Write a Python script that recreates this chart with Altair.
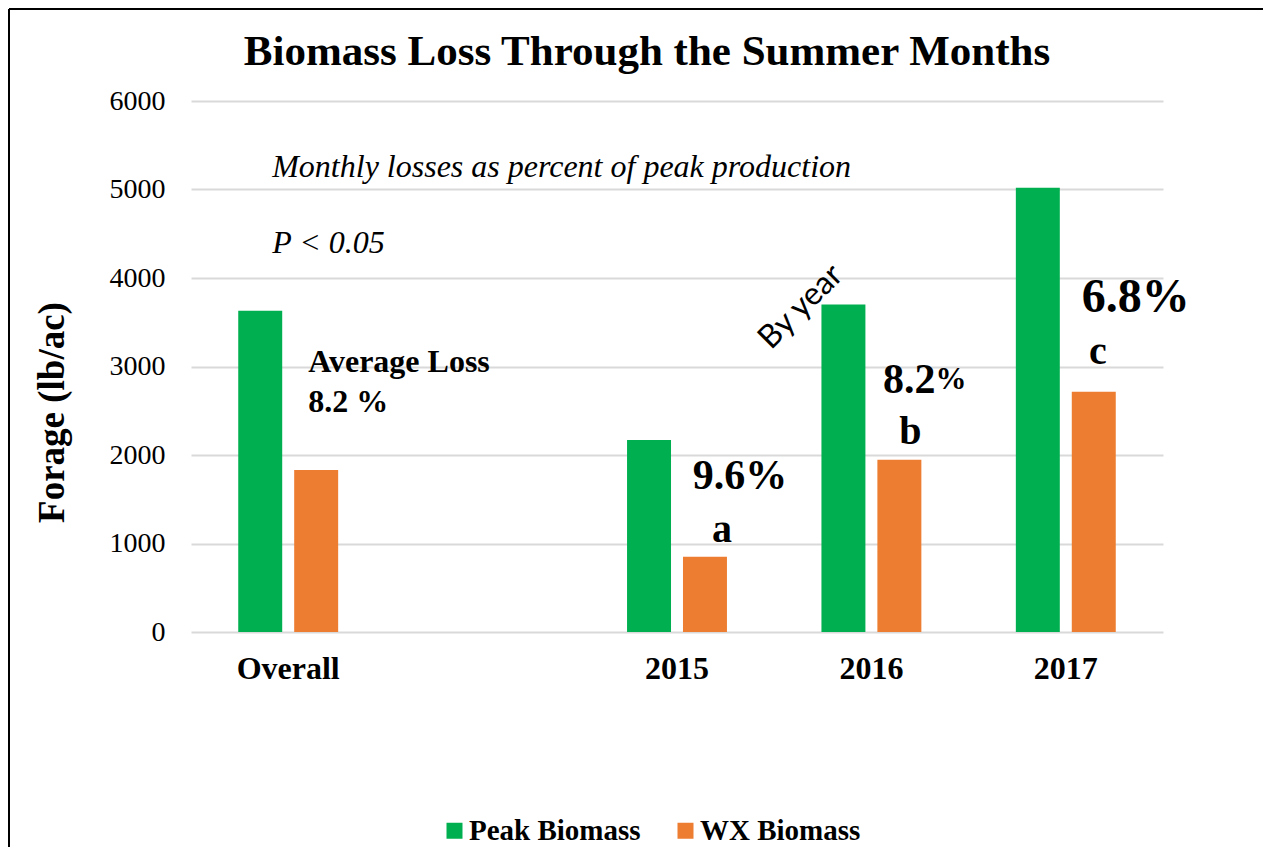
import altair as alt
import pandas as pd

categories = ["Overall", " ", "2015", "2016", "2017"]
series = ["Peak Biomass", "WX Biomass"]
peak = [3630, None, 2170, 3700, 5020]
wx = [1830, None, 850, 1945, 2715]
colors = ["#00B050", "#ED7D31"]

rows = []
for c, p, w in zip(categories, peak, wx):
    if p is not None:
        rows.append({"cat": c, "series": series[0], "value": p})
        rows.append({"cat": c, "series": series[1], "value": w})
df = pd.DataFrame(rows)

SERIF = "Liberation Serif"
W, H = 972, 531

xscale = alt.Scale(domain=categories, paddingInner=0.486, paddingOuter=0.243)
yscale = alt.Scale(domain=[0, 6000])

bars = alt.Chart(df).mark_bar().encode(
    x=alt.X("cat:N", scale=xscale, sort=categories,
            axis=alt.Axis(title=None, domain=False, ticks=False, labelAngle=0,
                          labelFont=SERIF, labelFontWeight="bold", labelFontSize=32,
                          labelColor="#000", labelPadding=21)),
    xOffset=alt.XOffset("series:N", scale=alt.Scale(domain=series, paddingInner=0.214, paddingOuter=0)),
    y=alt.Y("value:Q", scale=yscale,
            axis=alt.Axis(title="Forage (lb/ac)", values=[0, 1000, 2000, 3000, 4000, 5000, 6000],
                          format="d", domain=False, ticks=False, gridColor="#d9d9d9", gridWidth=2,
                          labelFont=SERIF, labelFontSize=28, labelColor="#000", labelPadding=26,
                          titleFont=SERIF, titleFontWeight="bold", titleFontSize=37,
                          titleColor="#000", titleX=-139, titleY=311, titleAngle=-90,
                          titleBaseline="middle", titleAlign="center")),
    color=alt.Color("series:N", scale=alt.Scale(domain=series, range=colors),
                    legend=alt.Legend(title=None, orient="none", legendX=249, legendY=715,
                                      direction="horizontal", symbolType="square",
                                      symbolSize=256, symbolStrokeWidth=0,
                                      labelFont=SERIF, labelFontWeight="bold",
                                      labelFontSize=29, labelColor="#000", labelLimit=400,
                                      labelOffset=0, columnPadding=30)),
)

base = alt.Chart(pd.DataFrame({"d": [0]}))


def note(text, cat, yv, dx, size, weight="bold", style="normal", align="left",
         font=SERIF, angle=0, dy=0):
    kw = dict(text=text, dx=dx, dy=dy, fontSize=size, fontWeight=weight, fontStyle=style,
              align=align, baseline="middle", font=font, color="#000")
    if angle:
        kw["angle"] = angle
    return base.mark_text(**kw).encode(
        x=alt.X("x:N", scale=xscale), y=alt.Y("y:Q", scale=yscale)
    ).transform_calculate(x=f"'{cat}'", y=str(yv))


notes = [
    note("Monthly losses as percent of peak production", "Overall", 5254, -16, 32,
         weight="normal", style="italic"),
    note("P < 0.05", "Overall", 4395, -16, 32, weight="normal", style="italic"),
    note("Average Loss", "Overall", 3051, 20, 32),
    note("8.2 %", "Overall", 2599, 20, 32),
    # dx/dy are applied in the rotated frame: (-50, -50) gives a horizontal shift of -71 px
    note("By year", "2016", 3661, -49, 32, weight="normal", align="center",
         font="Lato", angle=315, dy=-51),
    note("9.6%", "2015", 1763, 63, 42, align="center"),
    note("a", "2015", 1153, 45, 40, align="center"),
    note("8.2", "2016", 2847, 64, 42, align="right"),
    note("%", "2016", 2847, 64, 31, align="left"),
    note("b", "2016", 2260, 39, 40, align="center"),
    note("6.8%", "2017", 3774, 70, 48, align="center"),
    note("c", "2017", 3164, 32, 40, align="center"),
]

title = base.mark_text(text="Biomass Loss Through the Summer Months", font=SERIF,
                       fontWeight="bold", fontSize=43, color="#000", align="center",
                       baseline="middle").encode(x=alt.value(456), y=alt.value(-49))

frame_top = base.mark_rule(color="#000", strokeWidth=2).encode(
    x=alt.value(-182), x2=alt.value(1100), y=alt.value(-92))
frame_left = base.mark_rule(color="#000", strokeWidth=2).encode(
    x=alt.value(-182), y=alt.value(-92), y2=alt.value(760))

chart = alt.layer(bars, *notes, title, frame_top, frame_left).properties(
    width=W, height=H,
    autosize=alt.AutoSizeParams(type="none"),
    padding={"left": 183, "top": 93, "right": 100, "bottom": 215},
    background="white",
).configure_view(stroke=None)

chart.save("out.html", embed_options={"renderer": "svg", "actions": False})
